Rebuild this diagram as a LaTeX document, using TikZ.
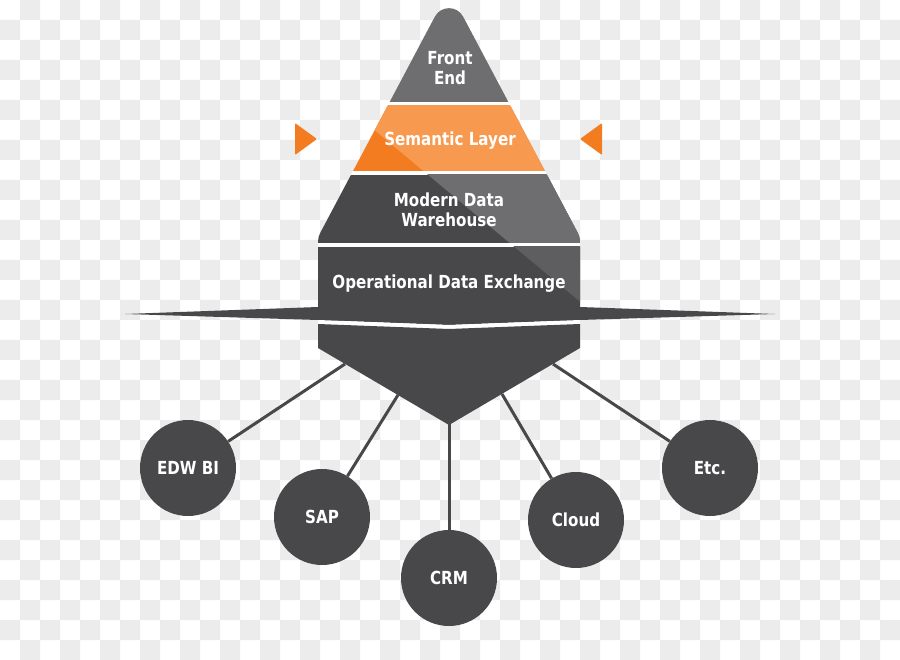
\documentclass[tikz,border=0pt]{standalone}
\usepackage{fontspec}
\newfontfamily\lbl{DejaVu Sans}[FakeStretch=0.84]
\definecolor{chk}{HTML}{ECECEC}
\definecolor{dk}{HTML}{48484A}
\definecolor{lg}{HTML}{6E6E70}
\definecolor{lg2}{HTML}{5E5E60}
\definecolor{orD}{HTML}{F47C20}
\definecolor{orL}{HTML}{F7994F}
\pgfdeclarelayer{bg}
\pgfdeclarelayer{lines}
\pgfsetlayers{bg,lines,main}
\tikzset{
  silpath/.style={insert path={(318,321) -- (318,247) .. controls (318,237) .. (322.7,228.2) -- (434.85,16.68) .. controls (440.87,5.34) and (457.13,5.34) .. (463.15,16.68) -- (575.3,228.2) .. controls (580,237) .. (580,247) -- (580,321) -- cycle}},
  lightpoly/.style={insert path={(200,-15.6) -- (700,401.9) -- (700,-60) -- (200,-60) -- cycle}},
  txt/.style={text=white, font=\lbl\bfseries\fontsize{18}{20.5}\selectfont, align=center, inner sep=0pt},
  circ/.style={circle, fill=dk, minimum size=96pt, inner sep=0pt, txt},
  conn/.style={draw=dk, line width=3pt}
}
\begin{document}
\begin{tikzpicture}[x=1pt,y=-1pt]
\useasboundingbox (0,0) rectangle (900,660);
\begin{pgfonlayer}{bg}
\fill[white] (0,0) rectangle (900,660);
\fill[chk] \foreach \j in {0,2,...,32}{\foreach \i in {1,3,...,43}{(\i*20,\j*20) rectangle ++(20,20)}};
\fill[chk] \foreach \j in {1,3,...,31}{\foreach \i in {0,2,...,44}{(\i*20,\j*20) rectangle ++(20,20)}};
\end{pgfonlayer}

% pyramid layers
\begin{scope}
  \clip[silpath];
  \fill[white] (300,-20) rectangle (600,330);
  \fill[lg] (300,-20) rectangle (600,102);
  \fill[orD] (300,106) rectangle (600,171);
  \begin{scope}\clip (300,106) rectangle (600,171); \fill[orL][lightpoly];\end{scope}
  \fill[dk] (300,175) rectangle (600,243);
  \begin{scope}\clip (300,175) rectangle (600,243); \fill[lg][lightpoly];\end{scope}
  \fill[dk] (300,247) rectangle (600,330);
  \begin{scope}\clip (300,247) rectangle (600,330); \fill[lg2][lightpoly];\end{scope}
\end{scope}

% side markers
\fill[orD, rounded corners=1pt] (295,123) -- (317,139) -- (295,155) -- cycle;
\fill[orD, rounded corners=1pt] (602,123) -- (580,139) -- (602,155) -- cycle;

% horizontal bar
\fill[dk] (125,314) -- (318,307) -- (449,305) -- (580,307) -- (775,314) -- (580,320) -- (449,325) -- (318,320) -- cycle;
\fill[white] (318,320) -- (449,325) -- (580,320) -- (580,324) -- (449,329) -- (318,324) -- cycle;
% funnel
\fill[dk] (318,324) -- (449,329) -- (580,324) -- (580,348) -- (449,425) -- (318,348) -- cycle;

% labels
\node[txt] (fe) at (450,68) {Front\\End};
\node[txt] (sl) at (450,141) {Semantic Layer};
\node[txt] (mdw) at (449,210) {Modern Data\\Warehouse};
\node[txt] (ode) at (449,284) {Operational Data Exchange};

% sources
\node[circ] (edw) at (188,468) {EDW BI};
\node[circ] (sap) at (322,517) {SAP};
\node[circ] (crm) at (449,578) {CRM};
\node[circ] (cloud) at (576,520) {Cloud};
\node[circ] (etc) at (710,468) {Etc.};

\coordinate (p1) at (345,364);
\coordinate (p2) at (398,395);
\coordinate (p3) at (449,420);
\coordinate (p4) at (502,394);
\coordinate (p5) at (553,364);
\begin{pgfonlayer}{lines}
\draw[conn] (p1) -- (edw);
\draw[conn] (p2) -- (sap);
\draw[conn] (p3) -- (crm);
\draw[conn] (p4) -- (cloud);
\draw[conn] (p5) -- (etc);
\end{pgfonlayer}
\end{tikzpicture}
\end{document}
